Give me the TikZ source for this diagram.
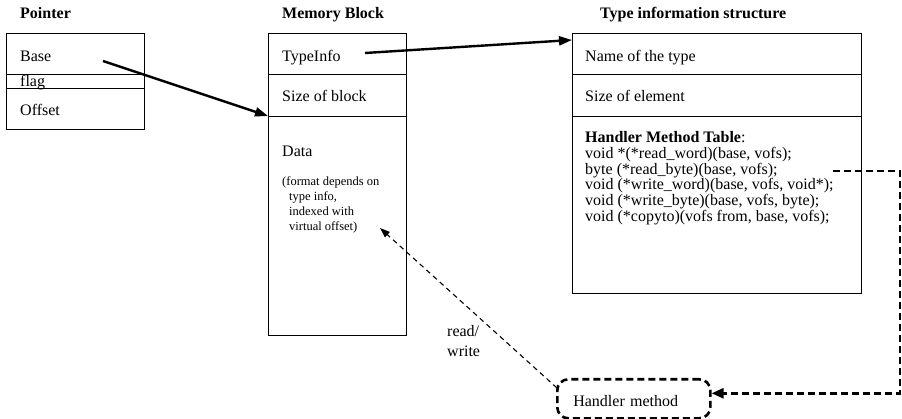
\documentclass[tikz,border=0pt]{standalone}
\usepackage{fontspec}
\setmainfont{Liberation Serif}
\usetikzlibrary{arrows.meta,calc}
\begin{document}
\begin{tikzpicture}[x=1pt,y=-1pt,
  cell/.style={draw, line width=1.1pt, inner sep=0pt, anchor=north west},
  txt/.style={anchor=base west, inner sep=0pt, font=\fontsize{16}{16}\selectfont},
  ttl/.style={anchor=base west, inner sep=0pt, font=\fontsize{16}{16}\selectfont\bfseries},
  smalltxt/.style={anchor=base west, inner sep=0pt, font=\fontsize{12.5}{12.5}\selectfont},
  solidarrow/.style={line width=2.4pt, -{Triangle[length=13pt,width=9pt]}},
  thickdash/.style={line width=2.6pt, dash pattern=on 7pt off 4pt},
  thindash/.style={line width=1.1pt, dash pattern=on 5pt off 4pt, -{Triangle[length=10pt,width=7pt]}},
  hmbox/.style={draw, thickdash, rounded corners=11pt, anchor=north west,
    minimum width=153pt, minimum height=39pt, inner xsep=16pt, inner ysep=0pt,
    text width=121pt, align=left, text height=15pt, text depth=0pt,
    font=\fontsize{16}{16}\selectfont}
]
\useasboundingbox (0,0) rectangle (902,419);

% titles
\node[ttl] (tptr) at (20,19) {Pointer};
\node[ttl] (tmem) at (282,19) {Memory Block};
\node[ttl] (ttype) at (600,19) {Type information structure};

% pointer box
\node[cell, minimum width=138pt, minimum height=41pt] (pbase) at (6,33) {};
\node[cell, minimum width=138pt, minimum height=14pt] (pflag) at (6,74) {};
\node[cell, minimum width=138pt, minimum height=41pt] (poff) at (6,88) {};
\node[txt] (lbase) at (20,62) {Base};
\node[txt] (lflag) at (20,87) {flag};
\node[txt] (loff) at (20,116) {Offset};

% memory block
\node[cell, minimum width=138pt, minimum height=41pt] (mtype) at (268,33) {};
\node[cell, minimum width=138pt, minimum height=42pt] (msize) at (268,74) {};
\node[cell, minimum width=138pt, minimum height=219pt] (mdata) at (268,116) {};
\node[txt] (ltypeinfo) at (282,62) {TypeInfo};
\node[txt] (lsizeblock) at (282,102) {Size of block};
\node[txt] (ldata) at (282,157) {Data};
\node[smalltxt] (lc1) at (282,186) {(format depends on};
\node[smalltxt] (lc2) at (289,201) {type info,};
\node[smalltxt] (lc3) at (289,216) {indexed with};
\node[smalltxt] (lc4) at (289,231) {virtual offset)};

% type information structure
\node[cell, minimum width=289pt, minimum height=41pt] (tname) at (572,33) {};
\node[cell, minimum width=289pt, minimum height=42pt] (tsize) at (572,74) {};
\node[cell, minimum width=289pt, minimum height=177pt] (ttable) at (572,116) {};
\node[txt] (lname) at (585,62) {Name of the type};
\node[txt] (lsizeel) at (585,102) {Size of element};
\node[txt] (lt0) at (585,143) {\textbf{Handler Method Table}:};
\node[txt] (lt1) at (585,159) {void *(*read\_word)(base, vofs);};
\node[txt] (lt2) at (585,175) {byte (*read\_byte)(base, vofs);};
\node[txt] (lt3) at (585,190) {void (*write\_word)(base, vofs, void*);};
\node[txt] (lt4) at (585,206) {void (*write\_byte)(base, vofs, byte);};
\node[txt] (lt5) at (585,222) {void (*copyto)(vofs from, base, vofs);};

% handler method
\node[hmbox] (hm) at (556,378) {Handler method};
\node[txt] (rw1) at (447,337) {read/};
\node[txt] (rw2) at (447,357) {write};

% connector coordinates
\coordinate (pstart) at (103,61);
\coordinate (tistart) at (365,53);
\coordinate (titip) at (572,40);
\coordinate (tabend) at (833,171);
\coordinate (turn) at (900,171);
\coordinate (datatip) at (380,228);

% connectors
\draw[solidarrow] (pstart) -- (mdata.north west);
\draw[solidarrow] (tistart) -- (titip);
\draw[thickdash, -{Triangle[length=12pt,width=10pt]}] (tabend) -- (turn) |- ($(hm.east)+(0,-5.5)$);
\draw[thindash] ($(hm.north west)+(1,10)$) -- (datatip);
\end{tikzpicture}
\end{document}
